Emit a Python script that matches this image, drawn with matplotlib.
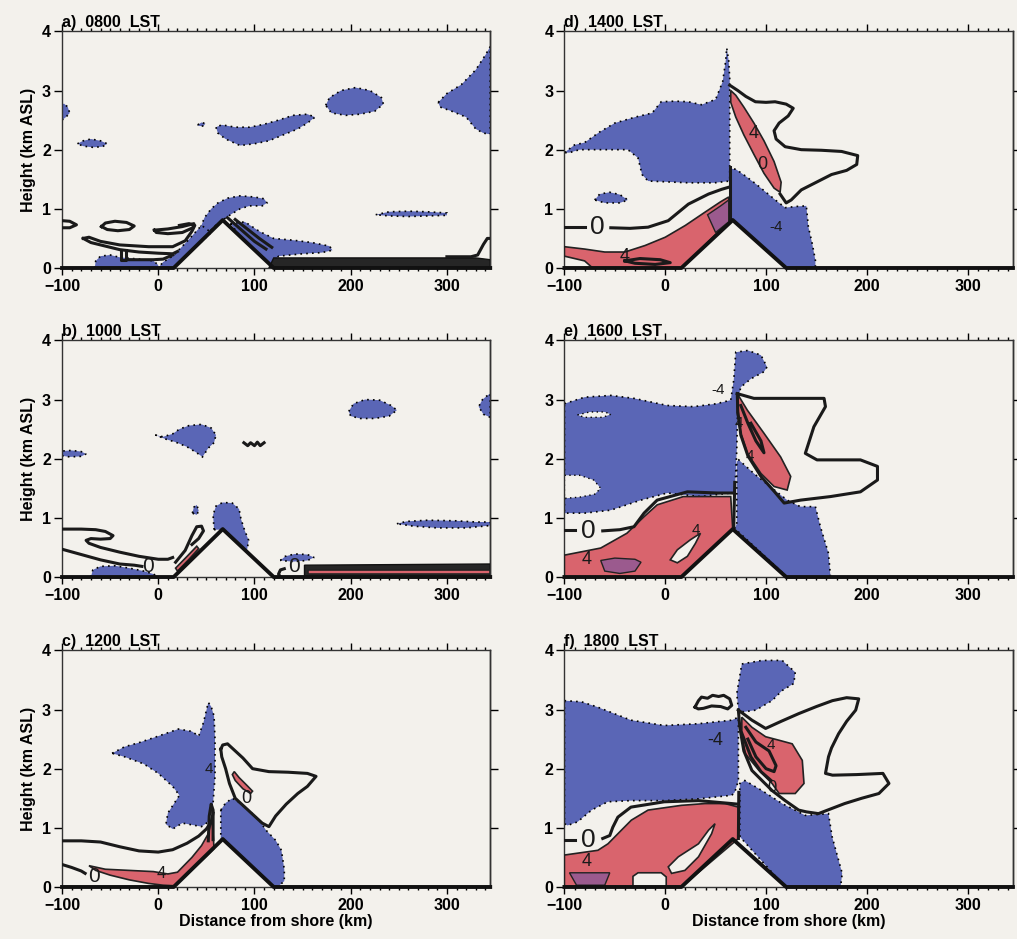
import matplotlib
matplotlib.use("Agg")
import matplotlib.pyplot as plt
from matplotlib.ticker import MultipleLocator, FixedLocator

plt.rcParams['font.family'] = ['Liberation Sans', 'DejaVu Sans']
plt.rcParams['font.weight'] = 'bold'

BG = "#f3f1ec"
BLUE = "#5a66b6"
RED = "#d9646d"
PURPLE = "#9b5a8e"

x_ticks = [-100, 0, 100, 200, 300]
y_ticks = [0, 1, 2, 3, 4]
right_ticks = [1, 2, 3]
x_range = (-100, 345)
titles = ["a)  0800  LST", "d)  1400  LST", "b)  1000  LST",
          "e)  1600  LST", "c)  1200  LST", "f)  1800  LST"]

# terrain profile (km, km)
terrain_x = [-100, 16, 67, 120, 345]
terrain_z = [0, 0, 0.81, 0, 0]

# ---- panel a) 0800 LST
a_blue = [
    [(-100, 2.5), (-96, 2.55), (-92, 2.62), (-94, 2.72), (-98, 2.78), (-100, 2.76)],
    [(-84, 2.1), (-78, 2.15), (-70, 2.18), (-60, 2.15), (-53, 2.1), (-58, 2.05), (-68, 2.04), (-78, 2.06)],
    [(41, 2.42), (45, 2.46), (49, 2.44), (47, 2.40), (42, 2.40)],
    [(60, 2.38), (62, 2.28), (70, 2.18), (85, 2.07), (100, 2.1), (115, 2.15), (130, 2.25), (145, 2.35),
     (155, 2.45), (163, 2.55), (155, 2.6), (140, 2.58), (125, 2.5), (110, 2.43), (95, 2.38), (80, 2.38), (66, 2.42)],
    [(174, 2.75), (178, 2.88), (190, 3.0), (205, 3.05), (220, 3.0), (232, 2.88), (234, 2.77), (225, 2.65),
     (210, 2.6), (195, 2.58), (180, 2.62)],
    [(291, 2.8), (300, 2.95), (315, 3.1), (330, 3.35), (340, 3.6), (345, 3.74), (345, 2.26), (338, 2.28),
     (330, 2.35), (320, 2.55), (305, 2.65), (293, 2.72)],
    [(226, 0.9), (240, 0.95), (260, 0.96), (280, 0.95), (300, 0.93), (300, 0.89), (280, 0.88), (260, 0.87), (240, 0.88)],
    [(42, 0.6), (48, 0.85), (55, 1.0), (62, 1.1), (72, 1.18), (85, 1.22), (100, 1.2), (110, 1.17), (113, 1.1),
     (108, 1.05), (95, 1.05), (85, 1.0), (75, 0.9), (68, 0.82), (58, 0.7), (50, 0.55)],
    [(75, 0.75), (90, 0.78), (105, 0.62), (120, 0.5), (140, 0.47), (160, 0.43), (178, 0.37), (181, 0.3),
     (170, 0.26), (150, 0.24), (125, 0.2), (118, 0.03), (100, 0.31), (85, 0.54)],
    [(-66, 0), (-65, 0.12), (-60, 0.2), (-50, 0.22), (-40, 0.18), (-20, 0.15), (-5, 0.12), (0, 0.05), (0, 0)],
    [(0, 0), (16, 0), (55, 0.6), (45, 0.72), (30, 0.45), (15, 0.2), (5, 0.1)],
]
a_bands = [[(115, 0), (120, 0.17), (330, 0.17), (345, 0.14), (345, 0)]]
a_lines = [
    [(-100, 0.8), (-92, 0.79), (-85, 0.73), (-92, 0.68), (-100, 0.68)],
    [(-59, 0.70), (-55, 0.76), (-45, 0.79), (-33, 0.77), (-25, 0.71), (-30, 0.65), (-42, 0.63), (-53, 0.65), (-59, 0.70)],
    [(-78, 0.5), (-72, 0.52), (-60, 0.45), (-40, 0.39), (-10, 0.36), (15, 0.36), (28, 0.46), (35, 0.62), (38, 0.72), (32, 0.75), (22, 0.72)],
    [(-78, 0.5), (-70, 0.43), (-55, 0.37), (-40, 0.31), (-20, 0.27), (0, 0.25), (15, 0.24), (20, 0.28)],
    [(-39, 0.31), (-39, 0.14), (-34, 0.14), (-34, 0.31)],
    [(-30, 0.14), (-5, 0.14), (5, 0.15), (15, 0.22)],
    [(-4, 0.64), (10, 0.66), (25, 0.70), (37, 0.75), (36, 0.68), (25, 0.6), (10, 0.58), (-2, 0.6), (-4, 0.64)],
    [(72, 0.85), (100, 0.45), (112, 0.32)],
    [(80, 0.82), (105, 0.5), (118, 0.35)],
    [(300, 0.19), (325, 0.19), (332, 0.22), (338, 0.4), (342, 0.5), (345, 0.5)],
]

# ---- panel b) 1000 LST
b_blue = [
    [(-100, 2.05), (-100, 2.13), (-90, 2.14), (-80, 2.12), (-75, 2.08), (-80, 2.04), (-92, 2.03)],
    [(-3, 2.4), (5, 2.37), (15, 2.42), (22, 2.5), (32, 2.56), (45, 2.58), (55, 2.52), (60, 2.4), (58, 2.27),
     (52, 2.18), (46, 2.03), (40, 2.1), (30, 2.2), (18, 2.28), (8, 2.33)],
    [(198, 2.8), (203, 2.93), (215, 3.0), (230, 2.99), (242, 2.9), (248, 2.82), (240, 2.72), (225, 2.68), (210, 2.68), (200, 2.72)],
    [(345, 2.7), (338, 2.75), (333, 2.88), (337, 3.0), (343, 3.08), (345, 3.1)],
    [(248, 0.9), (258, 0.94), (280, 0.96), (310, 0.95), (330, 0.93), (345, 0.93), (345, 0.87), (320, 0.83), (290, 0.83), (265, 0.86)],
    [(35.5, 1.08), (37, 1.18), (40, 1.22), (42, 1.12), (40, 1.05)],
    [(58, 0.8), (57, 1.05), (60, 1.2), (67, 1.26), (77, 1.25), (84, 1.15), (86, 0.98), (90, 0.78), (94, 0.62),
     (92, 0.43), (80, 0.62), (72, 0.75), (65, 0.8)],
    [(127, 0.28), (132, 0.35), (142, 0.39), (155, 0.38), (162, 0.33), (155, 0.28), (140, 0.26)],
    [(-70, 0), (-68, 0.12), (-60, 0.18), (-45, 0.19), (-30, 0.15), (-15, 0.1), (-5, 0.05), (0, 0)],
]
b_bands = [[(152, 0), (152, 0.2), (345, 0.22), (345, 0)]]
b_red = [
    [(18, 0.15), (30, 0.35), (40, 0.52), (42, 0.48), (32, 0.3), (20, 0.1)],
    [(156, 0.05), (345, 0.05), (345, 0.12), (156, 0.12)],
]
b_lines = [
    [(-100, 0.81), (-80, 0.81), (-65, 0.8), (-55, 0.77), (-47, 0.7), (-50, 0.65), (-60, 0.64), (-70, 0.65),
     (-75, 0.62), (-72, 0.57), (-60, 0.5), (-40, 0.42), (-20, 0.35), (0, 0.3), (10, 0.3), (15, 0.33)],
    [(-100, 0.47), (-80, 0.38), (-60, 0.29), (-40, 0.22), (-25, 0.2), (-17, 0.18)],
    [(18, 0.25), (28, 0.45), (35, 0.7), (40, 0.85), (45, 0.86), (47, 0.78), (42, 0.65), (35, 0.55)],
    [(131, 0.14), (127, 0.12), (125, 0.05), (127, 0)],
    [(89, 2.27), (93, 2.22), (96, 2.27), (100, 2.22), (103, 2.28), (106, 2.22), (110, 2.27)],
]
b_labels = [(-11, 0.17, "0", 15), (141, 0.17, "0", 15)]

# ---- panel c) 1200 LST
c_blue = [
    [(-48, 2.26), (-35, 2.37), (-20, 2.44), (0, 2.55), (21, 2.67), (35, 2.63), (42, 2.55), (47, 2.78), (52, 3.12),
     (55, 3.05), (58, 2.89), (59, 2.5), (59, 1.87), (57, 1.42), (52, 1.1), (45, 1.02), (35, 1.05), (25, 1.08),
     (15, 0.98), (8, 1.06), (10, 1.25), (18, 1.45), (22, 1.55), (15, 1.7), (0, 1.92), (-15, 2.08), (-35, 2.2)],
    [(65, 1.3), (70, 1.42), (77, 1.5), (85, 1.42), (95, 1.28), (105, 1.13), (112, 0.96), (122, 0.79),
     (128, 0.62), (131, 0.3), (131, 0.1), (124, 0), (120, 0), (67, 0.81), (65, 0.8)],
]
c_red = [
    [(-72, 0.36), (-55, 0.3), (-30, 0.28), (-5, 0.26), (10, 0.22), (20, 0.25), (35, 0.5), (45, 0.7), (52, 0.9),
     (56, 1.15), (58, 0.65), (50, 0.52), (35, 0.29), (17, 0.02), (5, 0.03), (-10, 0.06), (-30, 0.12), (-50, 0.2), (-65, 0.28)],
    [(79, 1.95), (84, 1.85), (92, 1.72), (98, 1.62), (96, 1.58), (88, 1.66), (80, 1.8), (77, 1.9)],
]
c_lines = [
    [(-100, 0.78), (-80, 0.78), (-60, 0.76), (-40, 0.68), (-20, 0.61), (0, 0.59), (15, 0.63), (30, 0.74),
     (42, 0.86), (50, 0.98), (55, 1.1), (57, 1.25)],
    [(65, 2.33), (67, 2.4), (72, 2.42), (78, 2.33), (88, 2.18), (98, 2.0), (115, 1.95), (135, 1.94), (155, 1.92),
     (164, 1.87), (155, 1.7), (145, 1.58), (133, 1.4), (122, 1.2), (115, 1.02), (108, 1.08), (100, 1.2),
     (88, 1.38), (80, 1.5), (74, 1.75), (70, 2.0), (66, 2.2), (65, 2.33)],
    [(-100, 0.38), (-90, 0.33), (-80, 0.27), (-76, 0.23)],
    [(52, 0.78), (53, 1.2), (55, 1.4), (57, 1.3), (57, 0.8)],
]
c_labels = [(-67, 0.18, "0", 15), (3, 0.22, "4", 12), (92, 1.5, "0", 13), (53, 2.0, "4", 11)]

# ---- panel d) 1400 LST
d_blue = [
    [(-100, 1.95), (-90, 2.08), (-80, 2.12), (-65, 2.3), (-50, 2.45), (-30, 2.55), (-13, 2.62), (-4, 2.81),
     (10, 2.82), (23, 2.81), (36, 2.76), (50, 2.85), (57, 3.15), (60, 3.5), (61, 3.72), (63, 3.5), (64, 3.2),
     (64, 1.47), (49, 1.44), (23, 1.44), (-17, 1.47), (-23, 1.58), (-27, 1.86), (-37, 2.0), (-63, 2.0), (-85, 2.0), (-95, 1.95)],
    [(-70, 1.15), (-65, 1.25), (-55, 1.28), (-45, 1.24), (-37, 1.15), (-45, 1.1), (-60, 1.1)],
    [(64.3, 0.86), (64.3, 1.68), (70, 1.67), (80, 1.55), (90, 1.42), (100, 1.28), (110, 1.14), (119, 1.02),
     (130, 1.04), (140, 1.05), (142, 0.7), (146, 0.4), (149, 0.13), (149, 0), (120, 0), (67, 0.81)],
]
d_red = [
    [(65, 3.0), (70, 2.92), (78, 2.72), (88, 2.45), (98, 2.15), (108, 1.8), (115, 1.45), (114, 1.28),
     (108, 1.35), (98, 1.6), (88, 1.92), (78, 2.25), (70, 2.55), (65, 2.8)],
    [(-100, 0.36), (-80, 0.32), (-60, 0.27), (-40, 0.27), (-20, 0.38), (0, 0.52), (20, 0.72), (40, 0.95),
     (55, 1.12), (63, 1.2), (64, 0.8), (16, 0), (-72, 0), (-80, 0.12), (-100, 0.2)],
]
d_purple = [[(42, 0.9), (55, 1.05), (63, 1.15), (63, 0.78), (50, 0.6)]]
d_lines = [
    [(64, 3.09), (72, 3.0), (80, 2.9), (89.5, 2.81), (100, 2.8), (109, 2.81), (120, 2.77), (127, 2.7), (122, 2.57),
     (113, 2.45), (108, 2.32), (110, 2.18), (119, 2.05), (135, 2.0), (155, 1.99), (175, 1.97), (191, 1.9),
     (190, 1.75), (180, 1.65), (165, 1.58), (150, 1.45), (135, 1.32), (125, 1.15), (120, 1.1), (114, 1.25)],
    [(-100, 0.7), (-80, 0.7)],
    [(-54, 0.68), (-35, 0.67), (-17, 0.69), (3, 0.8), (23, 1.08), (43, 1.25), (56, 1.33), (64, 1.37)],
    [(64, 0.84), (64, 1.7)],
    [(-40, 0.12), (-25, 0.16), (-5, 0.14), (5, 0.09), (-10, 0.06), (-30, 0.08), (-40, 0.12)],
]
d_labels = [(-67, 0.69, "0", 19), (-40, 0.2, "4", 13), (88, 2.28, "4", 13), (96, 1.75, "0", 13), (110, 0.7, "-4", 11)]

# ---- panel e) 1600 LST
e_blue = [
    [(-100, 2.93), (-80, 3.04), (-54, 3.07), (-31, 3.02), (2, 2.9), (28, 2.88), (51, 2.93), (65, 2.99), (68, 3.33),
     (70, 3.8), (82, 3.83), (95, 3.75), (101, 3.55), (98, 3.47), (85, 3.35), (75, 3.21), (72, 2.99), (71, 2.15),
     (69, 1.42), (65, 1.42), (35, 1.36), (2, 1.42), (-24, 1.3), (-54, 1.13), (-80, 1.08), (-100, 1.08)],
    [(71, 0.9), (71, 1.95), (73, 1.98), (88, 1.75), (104, 1.53), (121, 1.3), (134, 1.19), (149, 1.19), (154, 0.85),
     (162, 0.4), (164, 0), (121, 0), (69, 0.82)],
]
e_holes = [
    [(-87, 2.74), (-75, 2.79), (-60, 2.79), (-54, 2.75), (-62, 2.7), (-80, 2.7)],
    [(-100, 1.72), (-85, 1.72), (-71, 1.64), (-64, 1.5), (-70, 1.4), (-85, 1.35), (-100, 1.33)],
]
e_red = [
    [(71.5, 3.1), (81.5, 2.82), (98, 2.43), (114.5, 2.03), (124.5, 1.7), (121, 1.47), (108, 1.53), (95, 1.75),
     (81.5, 2.09), (75, 2.43), (71.5, 2.76)],
    [(-100, 0.37), (-64, 0.49), (-38, 0.74), (-21, 1.02), (-8, 1.22), (18, 1.36), (48, 1.36), (65, 1.36),
     (66, 1.08), (67, 0.81), (16, 0), (-100, 0)],
]
e_purple = [[(-64, 0.28), (-50, 0.32), (-30, 0.3), (-24, 0.25), (-30, 0.1), (-45, 0.06), (-60, 0.1)]]
e_white = [[(5, 0.29), (12, 0.46), (25, 0.63), (35, 0.74), (30, 0.57), (22, 0.35), (12, 0.24)]]
e_lines = [
    [(71.5, 3.1), (88, 3.02), (121, 3.02), (157.6, 3.02), (159, 2.88), (147.5, 2.54), (139, 2.09), (150.6, 1.98),
     (193.7, 1.98), (210.6, 1.87), (210.6, 1.64), (193.7, 1.44), (164, 1.36), (134.4, 1.3), (118, 1.25),
     (108, 1.45), (95, 1.7), (82, 2.05), (75, 2.4), (72, 2.8), (71.5, 3.1)],
    [(-100, 0.8), (-90, 0.8)],
    [(-62, 0.78), (-45, 0.8), (-31, 0.85), (-21, 1.08), (-8, 1.3), (22, 1.44), (52, 1.42), (67, 1.42)],
    [(68, 0.84), (69, 1.6)],
    [(75, 2.9), (82, 2.6), (90, 2.3), (98, 2.1), (95, 2.3), (85, 2.6)],
]
e_labels = [(-76, 0.77, "0", 19), (52, 3.16, "-4", 11), (-78, 0.3, "4", 13), (30, 0.8, "4", 11),
            (73, 2.6, "4", 11), (84, 2.05, "4", 11)]

# ---- panel f) 1800 LST
f_blue = [
    [(-100, 3.15), (-83, 3.13), (-67, 3.04), (-34, 2.82), (-1, 2.73), (33, 2.76), (66, 2.82), (72.6, 2.87),
     (72.6, 1.8), (69, 1.6), (66, 1.55), (33, 1.49), (-1, 1.46), (-34, 1.46), (-57, 1.44), (-73, 1.3), (-87, 1.1),
     (-97, 1.04), (-100, 1.07)],
    [(72.6, 2.99), (71, 3.27), (76, 3.77), (96, 3.83), (116, 3.83), (129, 3.63), (127.6, 3.44), (116, 3.32),
     (106, 3.15), (90, 2.99), (78, 2.96)],
    [(74, 0.85), (74, 1.75), (79, 1.8), (96, 1.63), (116, 1.41), (139, 1.21), (162, 1.24), (165.6, 0.85),
     (175.6, 0.23), (174, 0), (119, 0)],
]
f_red = [
    [(76, 2.87), (86, 2.7), (99.6, 2.54), (113, 2.48), (126, 2.42), (136, 2.14), (137.7, 1.75), (129, 1.58),
     (113, 1.58), (106, 1.75), (93, 1.97), (79.6, 2.25), (76, 2.54)],
    [(-100, 0.54), (-66.8, 0.62), (-56.8, 0.73), (-43.5, 0.96), (-33.6, 1.13), (-17, 1.3), (16, 1.38),
     (39.4, 1.41), (59.4, 1.41), (72.6, 1.35), (73, 1.07), (72, 0.81), (16, 0), (-100, 0)],
]
f_purple = [[(-95, 0.24), (-55, 0.24), (-60, 0.03), (-88, 0.03)]]
f_white = [
    [(3, 0.34), (13, 0.51), (33, 0.73), (43, 0.96), (49.4, 1.07), (46, 0.90), (33, 0.51), (19.5, 0.28), (6.3, 0.23)],
    [(-32, 0), (-32, 0.18), (-27, 0.24), (-4, 0.24), (1, 0.17), (1, 0)],
]
f_lines = [
    [(72.6, 2.99), (86, 2.82), (99.6, 2.68), (115, 2.8), (132.4, 2.93), (150, 3.05), (166, 3.15), (180, 3.2),
     (192, 3.18), (189, 2.99), (180, 2.8), (172, 2.59), (165, 2.35), (162, 2.2), (159, 1.92), (166, 1.89),
     (190, 1.9), (216, 1.92), (222, 1.75), (212, 1.58), (195, 1.5), (178, 1.41), (152, 1.24), (140, 1.27),
     (132.4, 1.3), (119, 1.46), (106, 1.63), (86, 1.97), (78, 2.3), (74, 2.7), (72.6, 2.99)],
    [(29.5, 3.04), (33, 3.15), (36, 3.21), (42, 3.19), (47, 3.24), (53, 3.22), (58, 3.24), (64, 3.18), (66, 3.07),
     (62, 3.01), (55, 3.05), (46, 3.06), (38, 3.02), (32.8, 3.01), (29.5, 3.04)],
    [(-100, 0.79), (-90, 0.79)],
    [(-62, 0.82), (-55, 0.87), (-52, 1.01), (-47, 1.18), (-34, 1.35), (-1, 1.44), (33, 1.46), (66, 1.41), (72, 1.4)],
    [(72.6, 0.82), (73, 1.6)],
    [(80, 2.7), (90, 2.45), (103, 2.3), (110, 2.05), (108, 1.95), (100, 2.0), (90, 2.2), (82, 2.5)],
    [(76, 2.6), (85, 2.2), (95, 1.95), (105, 1.8)],
]
f_labels = [(-76, 0.79, "0", 19), (50, 2.48, "-4", 13), (105, 2.4, "4", 11), (106, 1.69, "0", 12),
            (-78, 0.43, "4", 13)]


def fill_all(ax, polys, **kw):
    for p in polys:
        xs, ys = zip(*p)
        ax.fill(xs, ys, **kw)


def draw_panel(ax, title, blue=(), red=(), purple=(), holes=(), white=(), bands=(), lines=(), labels=()):
    ax.set_facecolor(BG)
    fill_all(ax, blue, facecolor=BLUE, edgecolor="black", linestyle=(0, (1, 2.5)), linewidth=1.2, zorder=2)
    fill_all(ax, holes, facecolor=BG, edgecolor="black", linestyle=(0, (1, 2.5)), linewidth=1.0, zorder=2.5)
    fill_all(ax, red, facecolor=RED, edgecolor="#222222", linewidth=1.2, zorder=3)
    fill_all(ax, purple, facecolor=PURPLE, edgecolor="#222222", linewidth=1.0, zorder=3.2)
    fill_all(ax, white, facecolor=BG, edgecolor="#222222", linewidth=1.2, zorder=3.3)
    fill_all(ax, bands, facecolor="#262626", edgecolor="#111111", linewidth=1.0, zorder=2.8)
    for ln in lines:
        xs, ys = zip(*ln)
        ax.plot(xs, ys, color="#1a1a1a", linewidth=2.2, solid_joinstyle="round", zorder=4)
    for x, y, s, fs in labels:
        ax.text(x, y, s, fontsize=fs, fontweight="normal", ha="center", va="center", color="#1a1a1a", zorder=5)
    ax.plot(terrain_x, terrain_z, color="#111111", linewidth=2.8, zorder=4.5, clip_on=False)

    ax.set_xlim(*x_range)
    ax.set_ylim(0, 4)
    ax.xaxis.set_major_locator(FixedLocator(x_ticks))
    ax.xaxis.set_minor_locator(MultipleLocator(10))
    ax.yaxis.set_major_locator(FixedLocator(y_ticks))
    ax.tick_params(axis="x", which="major", direction="out", length=5, width=1, top=True, labelsize=11.5, pad=3)
    ax.tick_params(axis="x", which="minor", direction="out", length=2.5, width=1, top=True)
    ax.tick_params(axis="y", which="major", direction="out", length=6, width=1, labelsize=11.5, pad=2)
    for lab in ax.get_xticklabels() + ax.get_yticklabels():
        lab.set_fontweight("bold")
    sec = ax.secondary_yaxis("right")
    sec.set_yticks(right_ticks)
    sec.set_yticklabels([])
    sec.tick_params(direction="out", length=6, width=1)
    sec.spines["right"].set_linewidth(1.0)
    for sp in ax.spines.values():
        sp.set_linewidth(1.0)
        sp.set_color("#333333")
    ax.text(0.0, 1.005, title, transform=ax.transAxes, ha="left", va="bottom", fontsize=11.5, fontweight="bold")


fig = plt.figure(figsize=(10.17, 9.39), dpi=100, facecolor=BG)
lefts = [0.061, 0.555]
widths = [0.421, 0.441]
bottoms = [0.7146, 0.3855, 0.0554]
height = 0.252

axes = {}
for r in range(3):
    for c in range(2):
        axes[(r, c)] = fig.add_axes([lefts[c], bottoms[r], widths[c], height])

draw_panel(axes[(0, 0)], titles[0], blue=a_blue, bands=a_bands, lines=a_lines)
draw_panel(axes[(0, 1)], titles[1], blue=d_blue, red=d_red, purple=d_purple, lines=d_lines, labels=d_labels)
draw_panel(axes[(1, 0)], titles[2], blue=b_blue, red=b_red, bands=b_bands, lines=b_lines, labels=b_labels)
draw_panel(axes[(1, 1)], titles[3], blue=e_blue, red=e_red, purple=e_purple, holes=e_holes, white=e_white,
           lines=e_lines, labels=e_labels)
draw_panel(axes[(2, 0)], titles[4], blue=c_blue, red=c_red, lines=c_lines, labels=c_labels)
draw_panel(axes[(2, 1)], titles[5], blue=f_blue, red=f_red, purple=f_purple, white=f_white, lines=f_lines,
           labels=f_labels)

# red stripe inside the dark surface band of panel b
for p in b_red[1:]:
    xs, ys = zip(*p)
    axes[(1, 0)].fill(xs, ys, facecolor=RED, edgecolor="none", zorder=2.9)

for r in range(3):
    axes[(r, 0)].set_ylabel("Height (km ASL)", fontsize=11.5, fontweight="bold", labelpad=4)
for c in range(2):
    axes[(2, c)].set_xlabel("Distance from shore (km)", fontsize=11.5, fontweight="bold", labelpad=1)

fig.savefig("out.png", dpi=100, facecolor=BG)
